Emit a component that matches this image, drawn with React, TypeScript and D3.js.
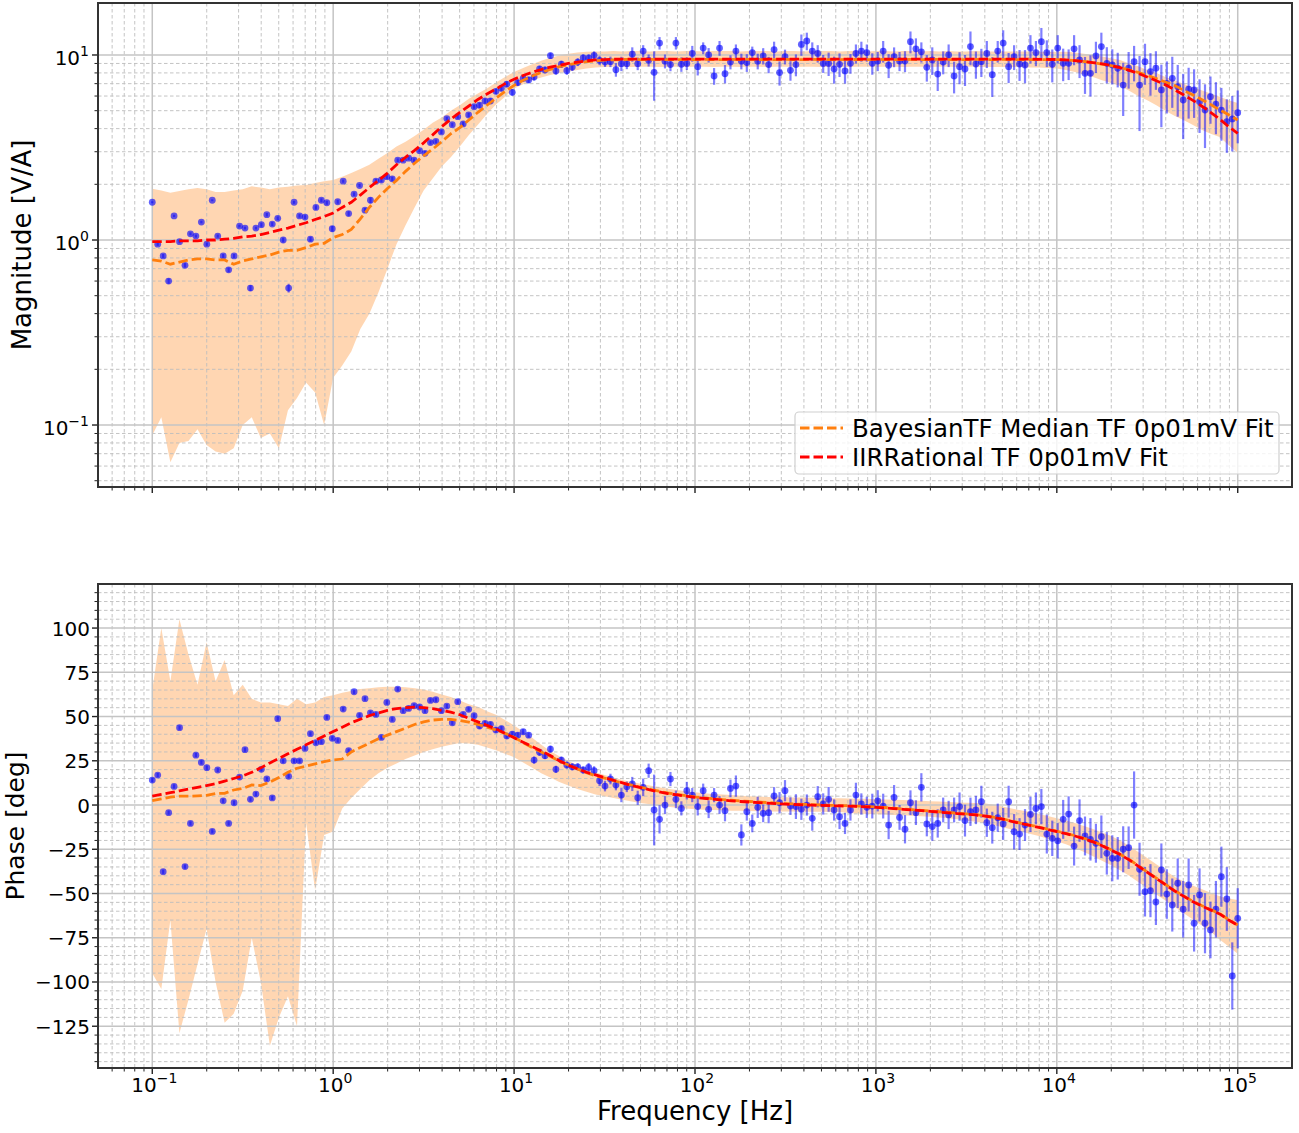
import React from "react";
import * as d3 from "d3";

const W = 1299;
const H = 1133;

// ---------- measured data (200 log-spaced points, 0.1 Hz .. 100 kHz) ----------
const magData = [
  1.60, 0.95, 0.82, 0.60, 1.35, 0.98, 0.73, 1.08, 1.05, 1.25,
  0.95, 1.64, 1.05, 0.82, 0.69, 0.82, 1.19, 1.16, 0.55, 1.16,
  1.21, 1.37, 1.22, 1.31, 1.00, 0.55, 1.60, 1.35, 1.33, 1.01,
  1.50, 1.64, 1.59, 1.15, 1.61, 2.08, 1.39, 1.77, 1.97, 1.45,
  1.64, 2.08, 2.11, 2.20, 2.14, 2.70, 2.70, 2.77, 2.70, 3.04,
  2.94, 3.36, 3.41, 3.84, 4.53, 4.20, 4.64, 4.24, 4.74, 5.25,
  5.35, 5.64, 5.64, 6.36, 6.61, 6.95, 6.28, 7.09, 7.48, 7.33,
  7.60, 8.40, 8.30, 9.92, 8.20, 8.91, 8.22, 8.61, 9.16, 9.63,
  9.60, 9.96, 9.36, 9.16, 9.20, 8.33, 8.98, 8.98, 10.1, 8.98,
  10.5, 9.36, 8.06, 11.6, 9.26, 8.87, 11.6, 8.91, 9.00, 10.2,
  8.65, 10.9, 10.0, 7.70, 10.9, 7.92, 9.16, 10.5, 9.26, 9.10,
  10.3, 9.26, 9.89, 8.87, 10.7, 8.03, 9.79, 8.26, 8.87, 11.4,
  11.9, 10.5, 10.2, 9.00, 9.00, 8.40, 8.90, 8.20, 9.02, 10.2,
  10.5, 10.3, 9.02, 9.28, 10.5, 8.80, 9.79, 9.28, 9.28, 11.8,
  10.8, 10.4, 8.58, 9.40, 7.89, 9.16, 10.0, 7.70, 8.65, 8.40,
  11.1, 8.94, 9.20, 10.2, 7.83, 10.5, 11.6, 8.65, 9.79, 8.94,
  8.83, 10.9, 10.3, 11.8, 10.3, 8.91, 10.9, 9.02, 9.02, 10.8,
  9.40, 7.96, 7.96, 9.89, 11.1, 9.02, 8.83, 8.48, 6.88, 8.48,
  9.20, 6.88, 9.20, 8.13, 8.48, 6.47, 7.03, 7.48, 6.74, 5.71,
  6.53, 6.47, 5.59, 5.04, 5.95, 5.43, 5.04, 4.36, 4.51, 4.88,
];

const magErr = [
  0.02, 0.02, 0.02, 0.02, 0.02, 0.02, 0.02, 0.02, 0.02, 0.02,
  0.02, 0.02, 0.02, 0.02, 0.02, 0.02, 0.02, 0.02, 0.02, 0.02,
  0.03, 0.03, 0.03, 0.03, 0.03, 0.03, 0.03, 0.03, 0.03, 0.03,
  0.04, 0.04, 0.04, 0.04, 0.04, 0.04, 0.04, 0.04, 0.04, 0.04,
  0.06, 0.06, 0.06, 0.06, 0.06, 0.06, 0.06, 0.06, 0.06, 0.06,
  0.08, 0.08, 0.08, 0.10, 0.10, 0.10, 0.12, 0.12, 0.13, 0.13,
  0.18, 0.18, 0.20, 0.22, 0.25, 0.25, 0.25, 0.28, 0.30, 0.30,
  0.32, 0.35, 0.35, 0.38, 0.38, 0.40, 0.40, 0.42, 0.45, 0.45,
  0.50, 0.50, 0.55, 0.55, 0.60, 0.70, 0.80, 0.60, 0.90, 0.70,
  0.80, 0.70, 2.40, 0.90, 0.80, 0.70, 0.90, 0.80, 0.70, 1.00,
  0.90, 0.80, 0.90, 0.80, 1.00, 0.90, 0.80, 0.90, 0.90, 1.00,
  0.80, 0.90, 1.00, 0.90, 1.10, 1.20, 0.90, 1.00, 1.20, 1.50,
  1.30, 1.20, 1.10, 1.00, 1.30, 1.40, 1.30, 1.20, 1.10, 1.20,
  1.30, 1.10, 1.20, 1.10, 1.40, 1.30, 1.20, 1.10, 1.20, 1.60,
  1.50, 1.30, 1.40, 1.60, 1.50, 1.30, 1.40, 1.50, 1.70, 1.60,
  2.30, 1.50, 1.60, 1.70, 1.90, 1.40, 2.00, 1.60, 1.50, 1.70,
  1.80, 1.90, 1.60, 2.20, 1.70, 1.80, 1.90, 1.80, 1.70, 2.00,
  1.90, 1.80, 2.00, 1.90, 2.10, 2.00, 1.90, 1.80, 2.20, 1.90,
  2.00, 3.00, 2.30, 2.10, 2.00, 2.40, 2.20, 2.30, 2.10, 2.20,
  2.00, 1.90, 1.80, 1.90, 1.70, 1.70, 1.60, 1.40, 1.50, 1.55,
];

const phaseData = [
  14.1, 16.9, -37.7, -4.3, 10.5, 43.7, -34.8, -10.4, 28.2, 24.1,
  21.1, -14.9, 19.8, 2.4, -10.4, 1.3, 15.8, 31.3, 3.2, 6.2,
  20.2, 14.7, 4.0, 48.8, 24.9, 16.2, 24.9, 24.9, 32.0, 40.3,
  35.2, 35.8, 49.5, 37.7, 36.5, 54.2, 30.7, 64.0, 50.7, 60.1,
  52.1, 51.2, 38.2, 58.0, 48.4, 65.5, 53.3, 54.6, 56.1, 55.4,
  53.3, 59.1, 59.5, 53.3, 55.9, 46.5, 58.4, 51.2, 54.1, 50.5,
  44.6, 46.1, 45.6, 42.4, 43.1, 39.0, 40.1, 39.5, 41.4, 39.5,
  25.4, 29.8, 27.9, 31.6, 20.2, 25.4, 22.6, 21.6, 21.6, 19.8,
  21.3, 19.4, 13.7, 10.7, 14.7, 11.3, 5.6, 10.3, 11.9, 4.1,
  10.0, 19.4, -2.8, -8.1, 0.0, 14.7, 3.2, -1.9, 8.1, 5.6,
  -0.9, 8.1, -2.4, 5.6, 0.0, -3.2, 9.4, 10.7, -16.9, -3.8,
  -10.4, -1.3, -4.7, -4.3, 5.1, 1.3, 8.1, -0.6, -0.9, -2.4,
  0.0, -7.5, 4.7, 0.6, 3.2, -2.8, -6.6, -10.4, -2.8, 5.6,
  0.6, -1.3, -0.6, 2.4, -0.6, -11.3, 4.3, -7.0, -13.7, 1.3,
  -4.3, 10.0, -10.7, -12.2, -10.4, -2.8, -5.6, -2.8, -0.9, -8.8,
  -3.8, -2.8, 1.9, -10.0, -12.8, -7.2, -10.7, 1.9, -15.1, -16.4,
  -11.3, -5.3, -1.9, -0.9, -16.4, -18.8, -20.2, -8.1, -5.1, -23.2,
  -8.8, -17.5, -19.4, -21.6, -17.9, -27.3, -30.1, -30.1, -25.0, -24.1,
  0.0, -36.3, -49.0, -48.4, -54.8, -36.7, -50.3, -56.5, -44.2, -58.9,
  -45.2, -66.8, -50.8, -66.8, -70.6, -58.9, -40.5, -53.1, -96.6, -64.0,
];

const phaseErr = [
  1.2, 1.2, 1.2, 1.2, 1.2, 1.2, 1.2, 1.2, 1.2, 1.2,
  1.2, 1.2, 1.2, 1.2, 1.2, 1.2, 1.2, 1.2, 1.2, 1.2,
  1.2, 1.2, 1.2, 1.2, 1.2, 1.2, 1.2, 1.2, 1.2, 1.2,
  1.2, 1.2, 1.2, 1.2, 1.2, 1.2, 1.2, 1.2, 1.2, 1.2,
  1.2, 1.2, 1.2, 1.2, 1.2, 1.2, 1.2, 1.2, 1.2, 1.2,
  1.2, 1.2, 1.2, 1.2, 1.2, 1.2, 1.2, 1.2, 1.2, 1.2,
  1.5, 1.5, 1.5, 1.5, 1.5, 1.5, 1.5, 1.5, 1.5, 1.5,
  2, 2, 2, 2, 2, 2, 2, 2, 2, 2,
  2.5, 2.5, 3, 3, 3, 3, 4, 3, 4, 4,
  5, 4, 20, 8, 5, 4, 5, 4, 5, 4,
  5, 4, 5, 4, 5, 6, 5, 6, 6, 5,
  5, 6, 5, 6, 5, 6, 6, 5, 7, 6,
  6, 7, 6, 6, 7, 6, 7, 6, 6, 7,
  6, 6, 7, 6, 7, 8, 7, 7, 8, 7,
  7, 8, 7, 8, 8, 7, 8, 7, 8, 9,
  8, 8, 9, 8, 9, 8, 9, 9, 10, 9,
  9, 10, 9, 10, 11, 10, 10, 11, 10, 11,
  12, 11, 12, 11, 12, 12, 13, 12, 13, 12,
  19, 15, 14, 15, 13, 15, 14, 15, 14, 16,
  15, 16, 15, 17, 16, 16, 17, 18, 19, 17,
];

// ---------- fits (121 points, every 0.05 decade from 0.1 Hz) ----------
const magBandHi = [
  1.89, 1.85, 1.80, 1.84, 1.88, 1.91, 1.88, 1.82, 1.82, 1.85,
  1.88, 1.95, 1.92, 1.88, 1.92, 1.94, 1.97, 1.98, 2.03, 2.08,
  2.11, 2.20, 2.30, 2.42, 2.55, 2.75, 2.95, 3.20, 3.40, 3.65,
  3.95, 4.30, 4.60, 5.00, 5.35, 5.80, 6.20, 6.60, 7.10, 7.60,
  8.10, 8.50, 8.90, 9.30, 9.65, 9.95, 10.15, 10.3, 10.4, 10.45,
  10.45, 10.5, 10.45, 10.5, 10.5, 10.45, 10.5, 10.5, 10.45, 10.5,
  10.5, 10.45, 10.5, 10.5, 10.5, 10.45, 10.5, 10.5, 10.5, 10.45,
  10.5, 10.5, 10.45, 10.5, 10.5, 10.5, 10.45, 10.5, 10.5, 10.45,
  10.5, 10.5, 10.45, 10.5, 10.5, 10.45, 10.5, 10.45, 10.5, 10.45,
  10.45, 10.5, 10.45, 10.45, 10.45, 10.45, 10.45, 10.45, 10.4, 10.4,
  10.4, 10.4, 10.3, 10.15, 10.0, 9.80, 9.60, 9.40, 9.00, 8.70,
  8.30, 8.00, 7.60, 7.30, 7.00, 6.70, 6.45, 6.20, 5.95, 5.70,
  5.50,
];
const magBandLo = [
  0.088, 0.11, 0.063, 0.080, 0.082, 0.095, 0.078, 0.072, 0.070, 0.075,
  0.10, 0.11, 0.085, 0.090, 0.075, 0.12, 0.14, 0.17, 0.15, 0.10,
  0.18, 0.21, 0.25, 0.33, 0.40, 0.52, 0.70, 0.95, 1.20, 1.50,
  1.85, 2.15, 2.50, 2.80, 3.20, 3.70, 4.20, 4.80, 5.40, 5.95,
  6.60, 6.95, 7.30, 7.55, 7.80, 8.00, 8.15, 8.30, 8.45, 8.55,
  8.60, 8.65, 8.65, 8.60, 8.65, 8.65, 8.60, 8.65, 8.65, 8.60,
  8.65, 8.65, 8.60, 8.65, 8.65, 8.60, 8.65, 8.65, 8.60, 8.65,
  8.65, 8.60, 8.65, 8.65, 8.60, 8.65, 8.65, 8.60, 8.65, 8.65,
  8.60, 8.65, 8.65, 8.60, 8.65, 8.65, 8.60, 8.65, 8.65, 8.60,
  8.65, 8.65, 8.60, 8.60, 8.60, 8.60, 8.60, 8.55, 8.55, 8.50,
  8.45, 8.30, 8.10, 7.85, 7.60, 7.30, 7.05, 6.80, 6.40, 6.00,
  5.70, 5.35, 5.00, 4.70, 4.45, 4.20, 3.95, 3.75, 3.60, 3.25,
  2.95,
];
const magMedian = [
  0.78, 0.77, 0.74, 0.76, 0.78, 0.79, 0.79, 0.78, 0.78, 0.74,
  0.77, 0.79, 0.81, 0.83, 0.86, 0.88, 0.88, 0.91, 0.95, 0.96,
  1.03, 1.07, 1.14, 1.30, 1.50, 1.70, 1.90, 2.10, 2.35, 2.60,
  2.85, 3.10, 3.40, 3.75, 4.05, 4.45, 4.90, 5.35, 5.85, 6.35,
  6.85, 7.30, 7.70, 8.05, 8.35, 8.65, 8.85, 9.05, 9.20, 9.30,
  9.38, 9.42, 9.45, 9.46, 9.45, 9.47, 9.45, 9.44, 9.45, 9.46,
  9.45, 9.47, 9.45, 9.44, 9.46, 9.45, 9.47, 9.45, 9.44, 9.45,
  9.46, 9.45, 9.45, 9.47, 9.45, 9.44, 9.45, 9.46, 9.45, 9.45,
  9.47, 9.45, 9.44, 9.45, 9.46, 9.45, 9.45, 9.47, 9.45, 9.44,
  9.45, 9.46, 9.45, 9.45, 9.47, 9.45, 9.44, 9.45, 9.45, 9.45,
  9.45, 9.40, 9.32, 9.22, 9.08, 8.93, 8.75, 8.55, 8.30, 8.05,
  7.75, 7.45, 7.15, 6.85, 6.45, 6.10, 5.75, 5.40, 5.05, 4.75,
  4.45,
];
const magIIR = [
  0.98, 0.98, 0.98, 0.99, 0.99, 0.99, 1.00, 1.00, 1.01, 1.02,
  1.04, 1.05, 1.07, 1.10, 1.13, 1.16, 1.20, 1.24, 1.29, 1.34,
  1.40, 1.50, 1.60, 1.75, 1.92, 2.10, 2.30, 2.55, 2.80, 3.05,
  3.35, 3.70, 4.10, 4.50, 4.90, 5.30, 5.75, 6.15, 6.55, 7.00,
  7.40, 7.75, 8.05, 8.35, 8.60, 8.80, 9.00, 9.15, 9.30, 9.40,
  9.45, 9.48, 9.50, 9.50, 9.50, 9.50, 9.50, 9.50, 9.50, 9.50,
  9.50, 9.50, 9.50, 9.50, 9.50, 9.50, 9.50, 9.50, 9.50, 9.50,
  9.50, 9.50, 9.50, 9.50, 9.50, 9.50, 9.50, 9.50, 9.50, 9.50,
  9.50, 9.50, 9.50, 9.50, 9.50, 9.50, 9.50, 9.50, 9.50, 9.50,
  9.50, 9.50, 9.50, 9.50, 9.50, 9.50, 9.50, 9.49, 9.48, 9.47,
  9.45, 9.40, 9.32, 9.22, 9.10, 8.95, 8.77, 8.55, 8.25, 7.95,
  7.60, 7.25, 6.90, 6.50, 6.10, 5.70, 5.30, 4.90, 4.50, 4.10,
  3.77,
];

const phaseBandHi = [
  65, 100, 70, 105, 85, 68, 92, 70, 82, 62,
  68, 60, 58, 58, 57, 56, 60, 57, 58, 61,
  62, 63.5, 64.5, 65.5, 66, 66.5, 66.8, 66.8, 66.5, 66,
  65.3, 64, 62.5, 61, 59, 57, 55.5, 53, 51, 48,
  45, 41.5, 38, 34, 30.5, 27.5, 25, 22.5, 20.5, 18.5,
  17, 15.5, 14.2, 13, 12, 11, 10, 9.2, 8.5, 7.8,
  7.2, 6.7, 6.3, 5.9, 5.6, 5.3, 5.0, 4.8, 4.6, 4.5,
  4.4, 4.3, 4.2, 4.1, 4.0, 3.9, 3.8, 3.7, 3.6, 3.5,
  3.3, 3.1, 3.0, 2.8, 2.6, 2.4, 2.2, 2.0, 1.7, 1.5,
  1.3, 1.2, 1.0, 0.2, -0.8, -2, -3, -4, -5, -6.2,
  -7.4, -8.8, -10.2, -11.8, -13.5, -15.5, -17.5, -20, -23, -26.5,
  -30, -33.5, -37, -40.5, -43, -45.5, -47.5, -49.5, -51.5, -52.8,
  -53.7,
];
const phaseBandLo = [
  -95, -104, -65, -129, -110, -90, -70, -100, -123, -118,
  -105, -75, -100, -136, -120, -108, -125, -10, -48, -17,
  -15, -2, 4, 9, 14, 18, 21, 23.5, 26, 28,
  30, 31.5, 33, 34, 35, 34.8, 34, 32.5, 31, 29,
  27, 24, 21, 18, 15.5, 13, 11, 9, 7.5, 6,
  5, 4, 3, 2, 1.2, 0.5, -0.5, -1, -1.5, -2,
  -2.4, -2.6, -2.8, -3.0, -3.2, -3.3, -3.4, -3.5, -3.6, -3.6,
  -3.7, -3.7, -3.8, -3.8, -3.8, -3.9, -4.0, -4.5, -4.8, -5.0,
  -5.2, -5.4, -5.6, -5.8, -6.0, -6.3, -6.6, -7.0, -7.5, -8.0,
  -8.7, -9.4, -10.2, -11.3, -12.5, -13.8, -15, -16.2, -17.5, -19,
  -20.5, -22.2, -24.2, -26.5, -29, -31.5, -34, -36.8, -40, -43.5,
  -47, -50.5, -54, -57.5, -61, -64.5, -68, -71.5, -76, -80,
  -84,
];
const phaseMedian = [
  2.5, 3.5, 4.5, 5, 5, 5.2, 5.5, 6.5, 6.6, 8.5,
  9.4, 11.3, 11, 13, 15.5, 18.5, 20.8, 22, 23.3, 24.5,
  25.5, 26, 30, 32.5, 35, 37.5, 39.5, 41.5, 43.5, 45.5,
  47, 48, 48.4, 48.4, 47.8, 46.8, 45.5, 44, 42.4, 40.5,
  38.3, 35.3, 32.5, 30, 27.5, 24.8, 22.6, 20.4, 18.3, 16.5,
  15.2, 13.8, 12.4, 11.2, 10, 8.9, 7.8, 6.8, 6.0, 5.3,
  4.6, 4.1, 3.6, 3.1, 2.7, 2.3, 2.0, 1.7, 1.4, 1.1,
  0.8, 0.6, 0.4, 0.2, 0, -0.2, -0.3, -0.4, -0.6, -0.8,
  -1.1, -1.4, -1.8, -2.2, -2.6, -3.0, -3.4, -3.8, -4.2, -4.6,
  -5.0, -5.4, -6.0, -6.8, -7.8, -9.0, -10.2, -11.3, -12.4, -13.6,
  -14.8, -16.0, -17.3, -18.8, -20.6, -22.8, -25.3, -27.8, -30.8, -34.3,
  -37.8, -41.3, -44.8, -48.3, -51.3, -54.3, -56.8, -59.1, -61.3, -64.8,
  -67.8,
];
const phaseIIR = [
  5, 6, 7, 8, 9, 10, 11, 12, 13.5, 15,
  16.5, 18.5, 21, 23.8, 26.3, 29, 31.5, 34, 36.5, 39,
  41.5, 44, 46.5, 48.5, 50.5, 52, 53.5, 54.5, 55, 55.3,
  55, 54.5, 53.5, 52.5, 51, 49, 47, 45, 43, 40.5,
  38, 35.5, 33, 30.5, 28, 25, 22.5, 20.5, 18.5, 17,
  15.5, 14, 12.5, 11, 9.8, 8.6, 7.5, 6.5, 5.7, 5.0,
  4.3, 3.8, 3.3, 2.8, 2.4, 2.0, 1.7, 1.4, 1.1, 0.8,
  0.5, 0.3, 0.1, -0.1, -0.2, -0.4, -0.5, -0.6, -0.8, -1.0,
  -1.3, -1.6, -2.0, -2.4, -2.8, -3.2, -3.6, -4.0, -4.4, -4.8,
  -5.2, -5.6, -6.2, -7.0, -8.0, -9.2, -10.4, -11.5, -12.6, -13.8,
  -15, -16.2, -17.5, -19, -20.8, -23, -25.5, -28, -31, -34.5,
  -38, -41.5, -45, -48.5, -51.5, -54.5, -57, -59.3, -61.5, -65,
  -68,
];

// ---------- ticks / labels ----------
const xTickExps = [-1, 0, 1, 2, 3, 4, 5];
const magTickExps = [-1, 0, 1];
const phaseTicks = [-125, -100, -75, -50, -25, 0, 25, 50, 75, 100];
const legendLabels = ["BayesianTF Median TF 0p01mV Fit", "IIRRational TF 0p01mV Fit"];
const xLabel = "Frequency [Hz]";
const magLabel = "Magnitude [V/A]";
const phaseLabel = "Phase [deg]";

// ---------- layout ----------
const X0 = 98;
const X1 = 1292;
const TOP = { y0: 3, y1: 487 };
const BOT = { y0: 584, y1: 1068 };
const FONT = "DejaVu Sans";
const ORANGE = "#ff7f0e";
const RED = "#ff0000";
const BLUE = "#0000ff";

const xScale = d3.scaleLog().domain([Math.pow(10, -1.3), Math.pow(10, 5.3)]).range([X0, X1]);
const magScale = d3.scaleLog().domain([Math.pow(10, -1.335), Math.pow(10, 1.281)]).range([TOP.y1, TOP.y0]);
const phaseScale = d3.scaleLinear().domain([-148.6, 124.9]).range([BOT.y1, BOT.y0]);

function logMinors(lo: number, hi: number): number[] {
  const out: number[] = [];
  for (let e = Math.floor(Math.log10(lo)) - 1; e <= Math.ceil(Math.log10(hi)); e++) {
    for (let m = 2; m <= 9; m++) {
      const v = m * Math.pow(10, e);
      if (v >= lo && v <= hi) out.push(v);
    }
  }
  return out;
}

const dataFreq = magData.map((_, i) => Math.pow(10, -1 + (6 * i) / (magData.length - 1)));
const fitFreq = magIIR.map((_, k) => Math.pow(10, -1 + 0.05 * k));

const xMajor = xTickExps.map((e) => Math.pow(10, e));
const xMinor = logMinors(xScale.domain()[0], xScale.domain()[1]);
const magMajor = magTickExps.map((e) => Math.pow(10, e));
const magMinor = logMinors(magScale.domain()[0], magScale.domain()[1]);
const phaseMinor = d3.range(-145, 125, 5).filter((v) => v % 25 !== 0);

function expLabel(e: number) {
  return e < 0 ? "\u2212" + Math.abs(e) : String(e);
}

type PanelProps = {
  id: string;
  yScale: any;
  box: { y0: number; y1: number };
  yMajor: number[];
  yMinor: number[];
  bandLo: number[];
  bandHi: number[];
  median: number[];
  iir: number[];
  data: number[];
  err: number[];
  logY: boolean;
};

function Panel(p: PanelProps) {
  const { yScale, box } = p;
  const idx = d3.range(p.median.length);
  const area = d3
    .area<number>()
    .x((k) => xScale(fitFreq[k]))
    .y0((k) => yScale(p.bandLo[k]))
    .y1((k) => yScale(p.bandHi[k]));
  const line = (arr: number[]) =>
    d3
      .line<number>()
      .x((k) => xScale(fitFreq[k]))
      .y((k) => yScale(arr[k]))(idx) || "";
  return (
    <g>
      <defs>
        <clipPath id={p.id}>
          <rect x={X0} y={box.y0} width={X1 - X0} height={box.y1 - box.y0} />
        </clipPath>
      </defs>
      <g clipPath={`url(#${p.id})`}>
        <path d={area(idx) || ""} fill={ORANGE} fillOpacity={0.32} stroke="none" />
        {xMinor.map((v, i) => (
          <line key={"xm" + i} x1={xScale(v)} x2={xScale(v)} y1={box.y0} y2={box.y1}
            stroke="#bdbdbd" strokeWidth={0.9} strokeDasharray="3.5,2.5" />
        ))}
        {p.yMinor.map((v, i) => (
          <line key={"ym" + i} x1={X0} x2={X1} y1={yScale(v)} y2={yScale(v)}
            stroke="#bdbdbd" strokeWidth={0.9} strokeDasharray="3.5,2.5" />
        ))}
        {xMajor.map((v, i) => (
          <line key={"xM" + i} x1={xScale(v)} x2={xScale(v)} y1={box.y0} y2={box.y1}
            stroke="#c4c4c4" strokeWidth={1.5} />
        ))}
        {p.yMajor.map((v, i) => (
          <line key={"yM" + i} x1={X0} x2={X1} y1={yScale(v)} y2={yScale(v)}
            stroke="#c4c4c4" strokeWidth={1.5} />
        ))}
        {p.data.map((v, i) => {
          const e = p.err[i];
          const lo = p.logY ? Math.max(v - e, 1e-3) : v - e;
          return (
            <line key={"e" + i} x1={xScale(dataFreq[i])} x2={xScale(dataFreq[i])}
              y1={yScale(lo)} y2={yScale(v + e)} stroke={BLUE} strokeOpacity={0.5} strokeWidth={2.2} />
          );
        })}
        {p.data.map((v, i) => (
          <circle key={"d" + i} cx={xScale(dataFreq[i])} cy={yScale(v)} r={3.4}
            fill={BLUE} fillOpacity={0.62} />
        ))}
        <path d={line(p.median)} fill="none" stroke={ORANGE} strokeWidth={2.8} strokeDasharray="9.5,4" />
        <path d={line(p.iir)} fill="none" stroke={RED} strokeWidth={2.8} strokeDasharray="9.5,4" />
      </g>
      {xMinor.map((v, i) => (
        <line key={"txm" + i} x1={xScale(v)} x2={xScale(v)} y1={box.y1} y2={box.y1 + 3.5} stroke="#222" strokeWidth={1} />
      ))}
      {xMajor.map((v, i) => (
        <line key={"txM" + i} x1={xScale(v)} x2={xScale(v)} y1={box.y1} y2={box.y1 + 6} stroke="#222" strokeWidth={1.4} />
      ))}
      {p.yMinor.map((v, i) => (
        <line key={"tym" + i} x1={X0 - 3.5} x2={X0} y1={yScale(v)} y2={yScale(v)} stroke="#222" strokeWidth={1} />
      ))}
      {p.yMajor.map((v, i) => (
        <line key={"tyM" + i} x1={X0 - 6} x2={X0} y1={yScale(v)} y2={yScale(v)} stroke="#222" strokeWidth={1.4} />
      ))}
      <rect x={X0} y={box.y0} width={X1 - X0} height={box.y1 - box.y0} fill="none" stroke="#333" strokeWidth={2} />
    </g>
  );
}

export default function App() {
  return (
    <svg width={W} height={H} style={{ position: "absolute", left: 0, top: 0 }} fontFamily={FONT}>
      <rect x={0} y={0} width={W} height={H} fill="#ffffff" />
      <Panel id="clipMag" yScale={magScale} box={TOP} yMajor={magMajor} yMinor={magMinor}
        bandLo={magBandLo} bandHi={magBandHi} median={magMedian} iir={magIIR}
        data={magData} err={magErr} logY={true} />
      <Panel id="clipPhase" yScale={phaseScale} box={BOT} yMajor={phaseTicks} yMinor={phaseMinor}
        bandLo={phaseBandLo} bandHi={phaseBandHi} median={phaseMedian} iir={phaseIIR}
        data={phaseData} err={phaseErr} logY={false} />

      {magTickExps.map((e) => (
        <text key={"ml" + e} x={89} y={magScale(Math.pow(10, e)) + 10} textAnchor="end" fontSize={20} fill="#000">
          10<tspan dy={-9} fontSize={14}>{expLabel(e)}</tspan>
        </text>
      ))}
      {phaseTicks.map((v) => (
        <text key={"pl" + v} x={90} y={phaseScale(v) + 7.5} textAnchor="end" fontSize={20} fill="#000">
          {v < 0 ? "\u2212" + Math.abs(v) : String(v)}
        </text>
      ))}
      {xTickExps.map((e) => (
        <text key={"xl" + e} x={xScale(Math.pow(10, e)) + 2} y={1092} textAnchor="middle" fontSize={20} fill="#000">
          10<tspan dy={-9} fontSize={14}>{expLabel(e)}</tspan>
        </text>
      ))}

      <text x={(X0 + X1) / 2} y={1120} textAnchor="middle" fontSize={26} fill="#000">{xLabel}</text>
      <text transform={`translate(31,${(TOP.y0 + TOP.y1) / 2}) rotate(-90)`} textAnchor="middle" fontSize={26} fill="#000">{magLabel}</text>
      <text transform={`translate(24,${(BOT.y0 + BOT.y1) / 2}) rotate(-90)`} textAnchor="middle" fontSize={25} fill="#000">{phaseLabel}</text>

      <g>
        <rect x={795} y={412} width={484} height={62} rx={4} fill="#ffffff" fillOpacity={0.8} stroke="#d0d0d0" strokeWidth={1.2} />
        {legendLabels.map((t, i) => (
          <g key={"lg" + i}>
            <line x1={800} x2={843} y1={428 + i * 29} y2={428 + i * 29}
              stroke={i === 0 ? ORANGE : RED} strokeWidth={2.8} strokeDasharray="9.5,4" />
            <text x={852} y={437 + i * 29} fontSize={24.5} fill="#000">{t}</text>
          </g>
        ))}
      </g>
    </svg>
  );
}
